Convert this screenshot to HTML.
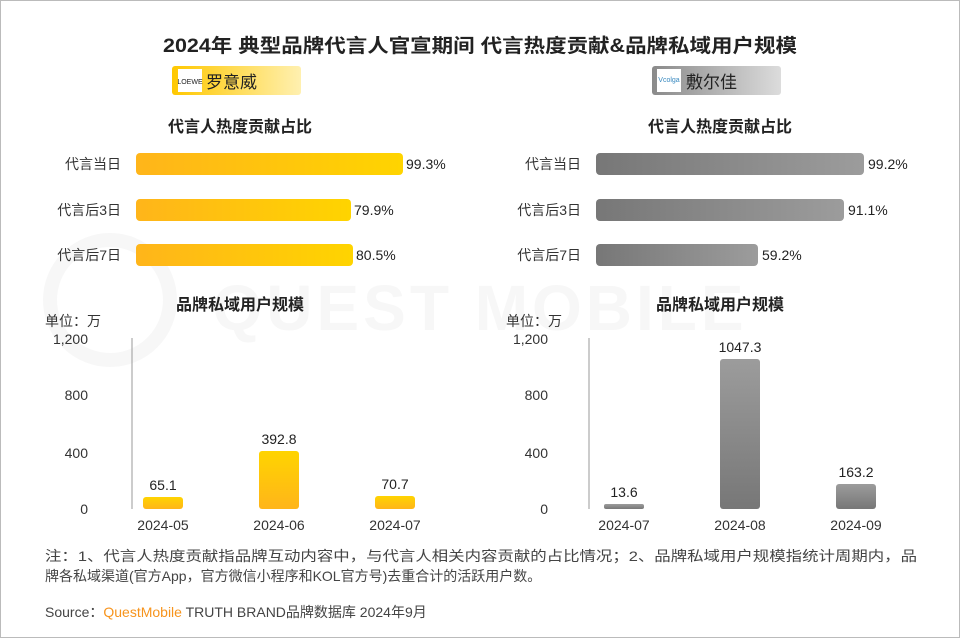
<!DOCTYPE html>
<html><head><meta charset="utf-8"><style>
body{margin:0;width:960px;height:638px;background:#fff;font-family:"Liberation Sans","Noto Sans CJK SC",sans-serif;overflow:hidden}
.wrap{position:relative;width:958px;height:636px;border:1px solid #bbb}
</style></head><body><div class="wrap">
<svg width="960" height="638" style="position:absolute;left:-1px;top:-1px" font-family="Liberation Sans, Noto Sans CJK SC, sans-serif">
<defs>
<linearGradient id="y" x1="0" x2="1"><stop offset="0" stop-color="#FFB51A"/><stop offset="1" stop-color="#FFD400"/></linearGradient>
<linearGradient id="g" x1="0" x2="1"><stop offset="0" stop-color="#777"/><stop offset="1" stop-color="#9c9c9c"/></linearGradient>
<linearGradient id="yv" x1="0" x2="0" y1="0" y2="1"><stop offset="0" stop-color="#FFD400"/><stop offset="1" stop-color="#FFB51A"/></linearGradient>
<linearGradient id="gv" x1="0" x2="0" y1="0" y2="1"><stop offset="0" stop-color="#9c9c9c"/><stop offset="1" stop-color="#777"/></linearGradient>
<linearGradient id="ty" x1="0" x2="1"><stop offset="0" stop-color="#FFC800"/><stop offset="1" stop-color="#FFF0B0"/></linearGradient>
<linearGradient id="tg" x1="0" x2="1"><stop offset="0" stop-color="#8a8a8a"/><stop offset="1" stop-color="#dcdcdc"/></linearGradient>
</defs>
<text x="480" y="330" text-anchor="middle" font-size="64" fill="#f7f7f7" font-weight="bold" letter-spacing="4">QUEST MOBILE</text>
<circle cx="110" cy="300" r="60" fill="none" stroke="#f7f7f7" stroke-width="14"/>
<text x="163" y="52" font-size="19" font-weight="bold" fill="#222" textLength="634" lengthAdjust="spacingAndGlyphs">2024年 典型品牌代言人官宣期间 代言热度贡献&amp;品牌私域用户规模</text>
<rect x="172" y="66" width="129" height="29" rx="3" fill="url(#ty)"/>
<rect x="178" y="69" width="24" height="23" fill="#fff"/>
<text x="190" y="84" text-anchor="middle" font-size="7" fill="#222">LOEWE</text>
<text x="206" y="88" font-size="17" fill="#222">罗意威</text>
<rect x="652" y="66" width="129" height="29" rx="3" fill="url(#tg)"/>
<rect x="657" y="69" width="24" height="23" fill="#fff"/>
<text x="669" y="82" text-anchor="middle" font-size="7" fill="#3a8ac0">Vcolga</text>
<text x="686" y="88" font-size="17" fill="#222">敷尔佳</text>
<g font-size="16" font-weight="bold" fill="#222" text-anchor="middle">
<text x="240" y="132">代言人热度贡献占比</text><text x="720" y="132">代言人热度贡献占比</text>
<text x="240" y="310">品牌私域用户规模</text><text x="720" y="310">品牌私域用户规模</text></g>
<g font-size="14" fill="#333" text-anchor="end">
<text x="121" y="169">代言当日</text><text x="121" y="215">代言后3日</text><text x="121" y="260">代言后7日</text>
<text x="581" y="169">代言当日</text><text x="581" y="215">代言后3日</text><text x="581" y="260">代言后7日</text></g>
<g>
<rect x="136" y="153" width="267" height="22" rx="4" fill="url(#y)"/>
<rect x="136" y="199" width="215" height="22" rx="4" fill="url(#y)"/>
<rect x="136" y="244" width="217" height="22" rx="4" fill="url(#y)"/>
<rect x="596" y="153" width="268" height="22" rx="4" fill="url(#g)"/>
<rect x="596" y="199" width="248" height="22" rx="4" fill="url(#g)"/>
<rect x="596" y="244" width="162" height="22" rx="4" fill="url(#g)"/></g>
<g font-size="14" fill="#222">
<text x="406" y="169">99.3%</text><text x="354" y="215">79.9%</text><text x="356" y="260">80.5%</text>
<text x="868" y="169">99.2%</text><text x="848" y="215">91.1%</text><text x="762" y="260">59.2%</text></g>
<g font-size="14" fill="#333">
<text x="45" y="326">单位：万</text><text x="506" y="326">单位：万</text></g>
<g font-size="14" fill="#333" text-anchor="end">
<text x="88" y="344">1,200</text><text x="88" y="400">800</text><text x="88" y="458">400</text><text x="88" y="514">0</text>
<text x="548" y="344">1,200</text><text x="548" y="400">800</text><text x="548" y="458">400</text><text x="548" y="514">0</text></g>
<line x1="132" y1="338" x2="132" y2="509" stroke="#999"/>
<line x1="589" y1="338" x2="589" y2="509" stroke="#999"/>
<rect x="143" y="497" width="40" height="12" rx="3" fill="url(#yv)"/>
<rect x="259" y="451" width="40" height="58" rx="3" fill="url(#yv)"/>
<rect x="375" y="496" width="40" height="13" rx="3" fill="url(#yv)"/>
<rect x="604" y="504" width="40" height="5" rx="2" fill="url(#gv)"/>
<rect x="720" y="359" width="40" height="150" rx="3" fill="url(#gv)"/>
<rect x="836" y="484" width="40" height="25" rx="3" fill="url(#gv)"/>
<g font-size="14" fill="#222" text-anchor="middle">
<text x="163" y="490">65.1</text><text x="279" y="444">392.8</text><text x="395" y="489">70.7</text>
<text x="624" y="497">13.6</text><text x="740" y="352">1047.3</text><text x="856" y="477">163.2</text></g>
<g font-size="14" fill="#333" text-anchor="middle">
<text x="163" y="530">2024-05</text><text x="279" y="530">2024-06</text><text x="395" y="530">2024-07</text>
<text x="624" y="530">2024-07</text><text x="740" y="530">2024-08</text><text x="856" y="530">2024-09</text></g>
<g font-size="14" fill="#444">
<text x="45" y="561" textLength="872" lengthAdjust="spacingAndGlyphs">注：1、代言人热度贡献指品牌互动内容中，与代言人相关内容贡献的占比情况；2、品牌私域用户规模指统计周期内，品</text>
<text x="45" y="581">牌各私域渠道(官方App，官方微信小程序和KOL官方号)去重合计的活跃用户数。</text>
<text x="45" y="617">Source：<tspan fill="#F7941D">QuestMobile</tspan> TRUTH BRAND品牌数据库 2024年9月</text></g>
</svg></div></body></html>
